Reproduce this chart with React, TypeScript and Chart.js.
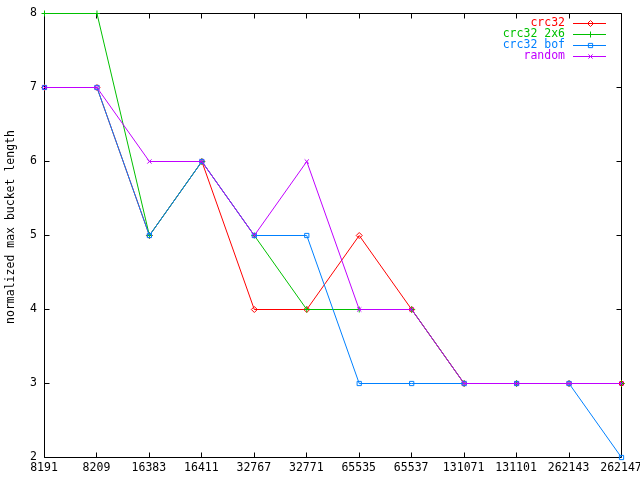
import React, { useEffect, useRef } from "react";
import { Chart, registerables } from "chart.js";
Chart.register(...registerables);

const categories = ["8191", "8209", "16383", "16411", "32767", "32771", "65535", "65537", "131071", "131101", "262143", "262147"];
const crc32 = [7, 7, 5, 6, 4, 4, 5, 4, 3, 3, 3, 3];
const crc32x6 = [8, 8, 5, 6, 5, 4, 4, 4, 3, 3, 3, 3];
const crc32bof = [7, 7, 5, 6, 5, 5, 3, 3, 3, 3, 3, 2];
const random = [7, 7, 6, 6, 5, 6, 4, 4, 3, 3, 3, 3];
const yTicks = [2, 3, 4, 5, 6, 7, 8];
const seriesNames = ["crc32", "crc32 2x6", "crc32 bof", "random"];
const seriesValues = [crc32, crc32x6, crc32bof, random];
const colors = ["#ff0000", "#00c000", "#0080ff", "#c000ff"];
const pointStyles = ["rectRot", "cross", "rect", "crossRot"];
const yTitle = "normalized max bucket length";

const FONT = "DejaVu Sans Mono";
const FONT_SIZE = 11.5;

function drawMarker(ctx: CanvasRenderingContext2D, style: string, x: number, y: number, r: number) {
  ctx.beginPath();
  if (style === "rectRot") {
    ctx.moveTo(x, y - r);
    ctx.lineTo(x + r, y);
    ctx.lineTo(x, y + r);
    ctx.lineTo(x - r, y);
    ctx.closePath();
  } else if (style === "cross") {
    ctx.moveTo(x - r, y);
    ctx.lineTo(x + r, y);
    ctx.moveTo(x, y - r);
    ctx.lineTo(x, y + r);
  } else if (style === "rect") {
    const s = r * Math.SQRT1_2;
    ctx.rect(x - s, y - s, 2 * s, 2 * s);
  } else {
    const s = r * Math.SQRT1_2;
    ctx.moveTo(x - s, y - s);
    ctx.lineTo(x + s, y + s);
    ctx.moveTo(x - s, y + s);
    ctx.lineTo(x + s, y - s);
  }
  ctx.stroke();
}

const framePlugin = {
  id: "gnuFrame",
  beforeDatasetsDraw(chart: any) {
    const ctx = chart.ctx as CanvasRenderingContext2D;
    const a = chart.chartArea;
    const L = Math.round(a.left) + 0.5;
    const R = Math.round(a.right) + 0.5;
    const T = Math.round(a.top) + 0.5;
    const B = Math.round(a.bottom) + 0.5;
    ctx.save();
    ctx.strokeStyle = "#000";
    ctx.lineWidth = 1;
    ctx.beginPath();
    ctx.rect(L, T, R - L, B - T);
    const xs = chart.scales.x;
    const ys = chart.scales.y;
    const tl = 5;
    categories.forEach((_, i) => {
      const px = Math.round(xs.getPixelForValue(i)) + 0.5;
      ctx.moveTo(px, B);
      ctx.lineTo(px, B - tl);
      ctx.moveTo(px, T);
      ctx.lineTo(px, T + tl);
    });
    yTicks.forEach((v) => {
      const py = Math.round(ys.getPixelForValue(v)) + 0.5;
      ctx.moveTo(L, py);
      ctx.lineTo(L + tl, py);
      ctx.moveTo(R, py);
      ctx.lineTo(R - tl, py);
    });
    ctx.stroke();
    ctx.restore();
    ctx.save();
    ctx.translate(0.5, 0.5);
  },
  afterDatasetsDraw(chart: any) {
    chart.ctx.restore();
  },
  afterDraw(chart: any) {
    const ctx = chart.ctx as CanvasRenderingContext2D;
    const a = chart.chartArea;
    ctx.save();
    ctx.font = `${FONT_SIZE}px "${FONT}"`;
    ctx.textBaseline = "middle";
    ctx.fillStyle = "#000";
    ctx.textAlign = "center";
    ctx.save();
    ctx.translate(11, 227);
    ctx.rotate(-Math.PI / 2);
    ctx.fillText(yTitle, 0, 0);
    ctx.restore();
    ctx.textAlign = "right";
    ctx.lineWidth = 1;
    const textRight = Math.round(a.right) - 56;
    const lineStart = Math.round(a.right) - 48;
    const lineEnd = Math.round(a.right) - 15;
    chart.data.datasets.forEach((ds: any, i: number) => {
      const y = Math.round(a.top) + 10 + 11 * i + 0.5;
      ctx.fillStyle = ds.borderColor;
      ctx.fillText(ds.label, textRight, y);
      ctx.strokeStyle = ds.borderColor;
      ctx.beginPath();
      ctx.moveTo(lineStart, y);
      ctx.lineTo(lineEnd, y);
      ctx.stroke();
      drawMarker(ctx, ds.pointStyle, Math.round((lineStart + lineEnd) / 2) + 0.5, y, 3);
    });
    ctx.restore();
  },
};

export default function App() {
  const ref = useRef<HTMLCanvasElement>(null);
  useEffect(() => {
    document.body.style.margin = "0";
    const canvas = ref.current!;
    const chart = new Chart(canvas, {
      type: "line",
      data: {
        labels: categories,
        datasets: seriesNames.map((name, i) => ({
          label: name,
          data: seriesValues[i],
          borderColor: colors[i],
          backgroundColor: "rgba(0,0,0,0)",
          borderWidth: 1,
          pointStyle: pointStyles[i],
          pointRadius: 3,
          pointBorderWidth: 1,
          pointBorderColor: colors[i],
          pointBackgroundColor: "rgba(0,0,0,0)",
          tension: 0,
          fill: false,
          order: 4 - i,
          clip: false,
        })),
      },
      options: {
        animation: false,
        responsive: false,
        devicePixelRatio: 1,
        events: [],
        layout: { padding: { top: 13, right: 19, left: 0, bottom: 0 } },
        plugins: {
          legend: { display: false },
          tooltip: { enabled: false },
          title: { display: false },
        },
        scales: {
          x: {
            type: "category",
            offset: false,
            grid: { display: false, drawTicks: false, tickLength: 0 },
            border: { display: false },
            ticks: {
              autoSkip: false,
              maxRotation: 0,
              minRotation: 0,
              padding: 4,
              color: "#000",
              font: { family: FONT, size: FONT_SIZE },
            },
            afterFit(scale: any) {
              scale.height = 23;
              scale.paddingLeft = 0;
              scale.paddingRight = 0;
            },
          },
          y: {
            type: "linear",
            min: 2,
            max: 8,
            grid: { display: false, drawTicks: false, tickLength: 0 },
            border: { display: false },
            afterBuildTicks(scale: any) {
              scale.ticks = yTicks.map((v) => ({ value: v }));
            },
            ticks: {
              padding: 7,
              color: "#000",
              font: { family: FONT, size: FONT_SIZE },
            },
            afterFit(scale: any) {
              scale.width = 44;
              scale.paddingTop = 0;
              scale.paddingBottom = 0;
            },
          },
        },
      } as any,
      plugins: [framePlugin],
    });
    return () => chart.destroy();
  }, []);
  return (
    <div style={{ position: "absolute", left: 0, top: 0, width: 640, height: 480, background: "#fff" }}>
      <canvas ref={ref} width={640} height={480} />
    </div>
  );
}
